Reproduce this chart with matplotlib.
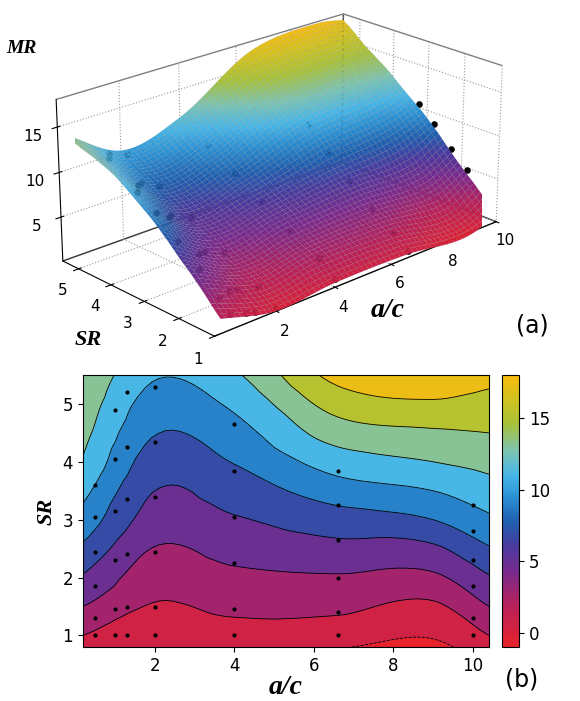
import numpy as np
import matplotlib
matplotlib.use("Agg")
import matplotlib.pyplot as plt
import matplotlib.tri as mtri
from matplotlib.colors import LinearSegmentedColormap

ac_grid = [0.2, 2, 4, 6.6, 9, 10.4]
sr_grid = [0.8, 1, 1.5, 2, 2.5, 3, 3.5, 4, 4.5, 5, 5.5]
# MR values: rows = sr_grid, columns = ac_grid
mr_grid = [
    [0.9, -0.3, 0.0, -0.4, -1.0, 0.8],
    [1.6, 0.0, 0.5, 0.4, -0.3, 1.6],
    [3.7, 1.4, 2.2, 2.1, 1.2, 3.7],
    [5.6, 2.5, 3.2, 3.5, 3.3, 5.6],
    [7.5, 3.6, 4.5, 5.2, 5.4, 7.7],
    [9.2, 4.9, 5.6, 6.9, 7.9, 9.6],
    [10.6, 5.8, 6.8, 9.0, 10.0, 11.2],
    [11.9, 6.9, 8.0, 11.0, 12.1, 12.8],
    [12.7, 8.0, 9.2, 13.1, 13.9, 14.2],
    [13.3, 9.1, 10.4, 15.1, 16.0, 15.5],
    [14.0, 10.2, 11.8, 17.0, 17.8, 17.0],
]
pts_ac = [0.5]*6 + [1]*6 + [1.3]*6 + [2]*6 + [4]*6 + [6.6]*6 + [10]*6
pts_sr = [1, 1.3, 1.85, 2.45, 3.05, 3.6,
          1, 1.45, 2.3, 3.15, 4.05, 4.9,
          1, 1.5, 2.4, 3.35, 4.25, 5.2,
          1, 1.5, 2.45, 3.4, 4.35, 5.3,
          1, 1.45, 2.25, 3.05, 3.85, 4.65,
          1, 1.4, 2.0, 2.65, 3.25, 3.85,
          1, 1.3, 1.85, 2.3, 2.8, 3.25]
levels = [-1.5, -0.5, 1.6, 3.7, 5.8, 7.9, 10, 12.1, 14.2, 16.3, 18.5]

cmap = LinearSegmentedColormap.from_list("mr", [
    (0.0, "#e8232b"), (0.15, "#b8215a"), (0.27, "#7b2a8c"), (0.37, "#4a3a9e"),
    (0.46, "#1f5fb0"), (0.55, "#2a8fd3"), (0.63, "#46b6e8"), (0.72, "#7cc4b4"),
    (0.82, "#a6c23a"), (0.92, "#d4c21c"), (1.0, "#fbbb10")])

A, S = np.meshgrid(ac_grid, sr_grid)
Z = np.array(mr_grid)
tri = mtri.Triangulation(A.ravel(), S.ravel())
interp = mtri.CubicTriInterpolator(tri, Z.ravel(), kind="geom")
fa, fs = np.meshgrid(np.linspace(0.2, 10.4, 60), np.linspace(0.8, 5.5, 50))
fz = np.ma.filled(interp(fa, fs), np.nan)
pz = np.ma.filled(interp(np.array(pts_ac), np.array(pts_sr)), np.nan)
sa, ss = np.meshgrid(np.linspace(0.2, 10, 60), np.linspace(1, 5.5, 50))
sz = np.ma.filled(interp(sa, ss), np.nan)

fig = plt.figure(figsize=(5.8, 7.01), dpi=100)
serif = dict(family="Liberation Serif", weight="bold", style="italic")

ax = fig.add_axes([-0.08, 0.47, 1.12, 0.58], projection="3d")
ax.set_box_aspect((1.7, 1.0, 0.75), zoom=1.15)
ax.plot_surface(sa, ss, sz, cmap=cmap, vmin=-1, vmax=18, rstride=1, cstride=1,
                linewidth=0.2, edgecolor=(0.3, 0.3, 0.3, 0.25), antialiased=True)
ax.scatter(pts_ac, pts_sr, pz + 0.4, color="black", s=14, depthshade=False)
ax.view_init(elev=22, azim=-133)
ax.set_xlim(0, 10); ax.set_ylim(1, 5.5); ax.set_zlim(0, 18)
ax.set_xticks([2, 4, 6, 8, 10]); ax.set_yticks([1, 2, 3, 4, 5]); ax.set_zticks([5, 10, 15])
for a in (ax.xaxis, ax.yaxis, ax.zaxis):
    a.pane.fill = False
    a.pane.set_edgecolor("black")
    a._axinfo["grid"]["linestyle"] = ":"
    a._axinfo["grid"]["color"] = "#999999"
ax.tick_params(labelsize=11, pad=0)
ax.set_xlabel("a/c", fontsize=20, labelpad=2, **serif)
ax.set_ylabel("SR", fontsize=16, labelpad=2, **serif)
fig.text(0.01, 0.925, "MR", fontsize=14, **serif)
fig.text(0.89, 0.525, "(a)", fontsize=17)

ax2 = fig.add_axes([0.143, 0.077, 0.70, 0.388])
ax2.contourf(fa, fs, fz, levels=levels, cmap=cmap, vmin=-1, vmax=18)
ax2.contour(fa, fs, fz, levels=levels[1:-1], colors="black", linewidths=0.6)
ax2.scatter(pts_ac, pts_sr, color="black", s=4)
ax2.set_xlim(0.2, 10.4); ax2.set_ylim(0.8, 5.5)
ax2.set_xticks([2, 4, 6, 8, 10]); ax2.set_yticks([1, 2, 3, 4, 5])
ax2.tick_params(labelsize=12)
ax2.set_xlabel("a/c", fontsize=20, labelpad=0, **serif)
ax2.set_ylabel("SR", fontsize=16, **serif)

cax = fig.add_axes([0.866, 0.077, 0.029, 0.388])
sm = plt.cm.ScalarMappable(cmap=cmap, norm=plt.Normalize(-1, 18))
cb = fig.colorbar(sm, cax=cax, ticks=[0, 5, 10, 15])
cb.ax.tick_params(labelsize=12)
fig.text(0.87, 0.02, "(b)", fontsize=17)

fig.savefig("out.png", dpi=100)
